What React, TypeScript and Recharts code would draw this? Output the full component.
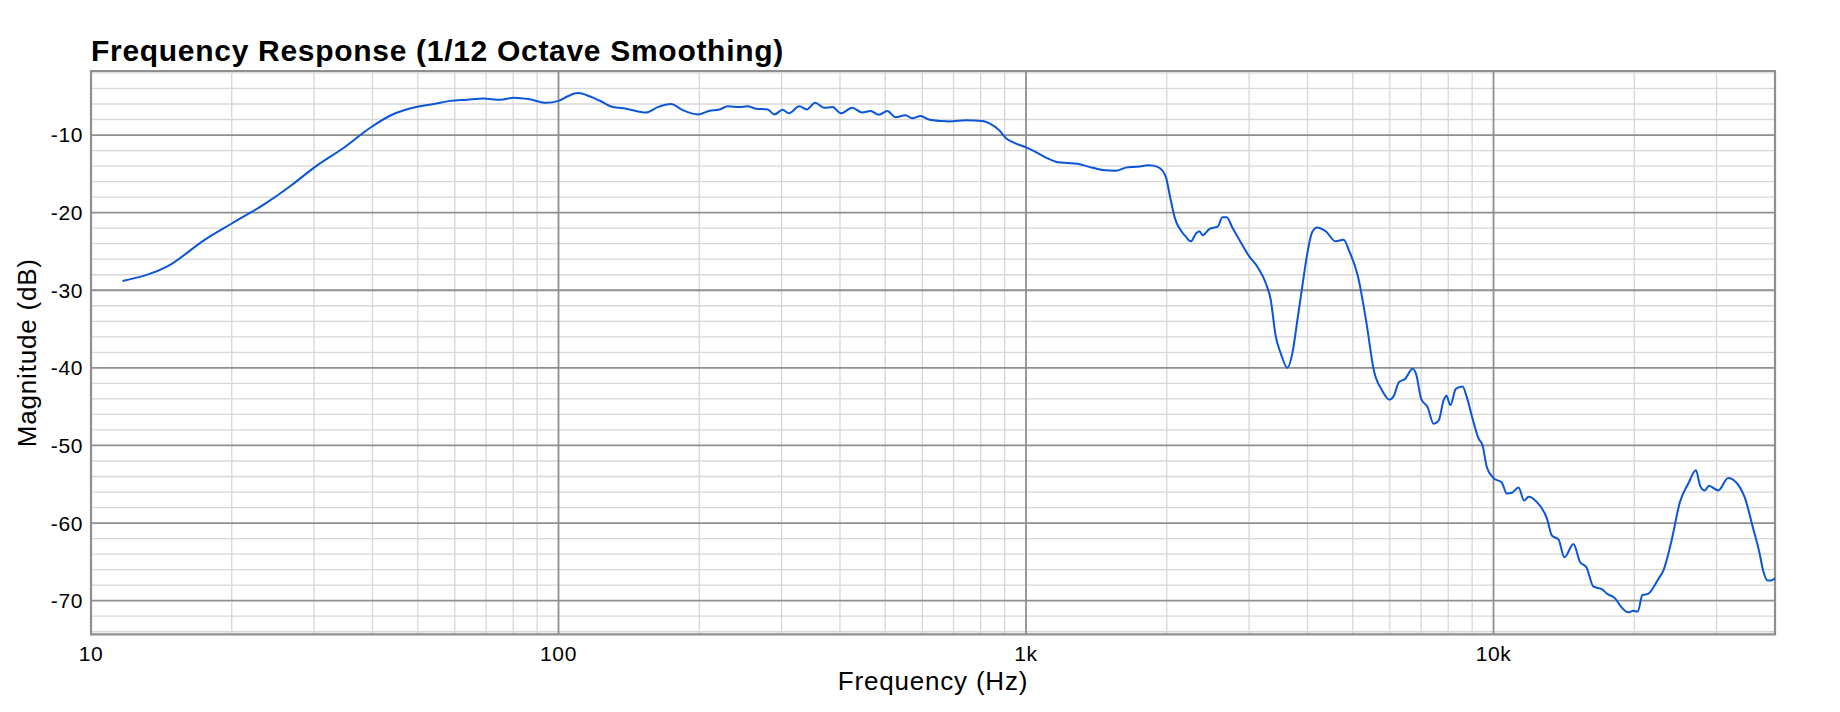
import { LineChart, Line, XAxis, YAxis, CartesianGrid, ReferenceArea, Label } from 'recharts';

const FREQ_HZ = [
  11.68, 14.6, 17.5, 20, 23.5, 26.8, 30, 34.8, 39.7, 43.8, 46.7, 49.9, 54.1, 58.7, 63.7, 69.2, 75.1, 80.2,
  86.7, 94.1, 100, 104.7, 110, 116.5, 122.3, 130.6, 139.5, 153.9, 163, 174, 184.4, 198.5, 210, 220.9, 230.3,
  243.5, 253.6, 264.4, 280, 289.5, 301.6, 310.9, 327.6, 339.5, 354, 370, 385.5, 401.7, 424.7, 446.1, 465,
  484.2, 505, 526, 552.5, 571, 595, 620, 660, 686, 744, 808, 835, 877, 906, 944, 1000, 1050, 1103, 1169,
  1227, 1289, 1365, 1458, 1557, 1636, 1718, 1834, 1911, 1959, 1991, 2040, 2084, 2144, 2197, 2252, 2309,
  2348, 2388, 2469, 2570, 2632, 2686, 2762, 2879, 3000, 3127, 3258, 3337, 3420, 3505, 3624, 3713, 3807,
  3899, 3995, 4094, 4195, 4375, 4596, 4778, 4917, 5128, 5348, 5545, 5775, 5985, 6121, 6266, 6475, 6712,
  6830, 7003, 7232, 7442, 7630, 7820, 7930, 8084, 8307, 8584, 8770, 8960, 9290, 9474, 9677, 10000, 10418,
  10677, 10944, 11307, 11628, 11887, 12378, 13006, 13330, 13768, 14180, 14820, 15310, 15800, 16360, 17040,
  17490, 18200, 18750, 19430, 19900, 20350, 20810, 21440, 22520, 23090, 24040, 25040, 26100, 27100, 27670,
  28300, 28890, 30250, 31760, 33650, 34460, 35850, 37010, 37800, 38550, 39190, 40000,
];

const MAG_DB = [
  -28.8, -26.9, -23.5, -21.4, -18.9, -16.5, -14.2, -11.6, -9.0, -7.45, -6.8, -6.35, -6.0, -5.6, -5.45, -5.3, -5.45, -5.2,
  -5.4, -5.85, -5.6, -5.0, -4.6, -5.0, -5.55, -6.4, -6.6, -7.1, -6.4, -6.0, -6.8, -7.35, -6.9, -6.7, -6.3,
  -6.4, -6.3, -6.6, -6.7, -7.35, -6.75, -7.2, -6.3, -6.7, -5.85, -6.5, -6.4, -7.2, -6.5, -7.1, -6.9,
  -7.4, -6.9, -7.7, -7.45, -7.85, -7.55, -8.0, -8.2, -8.25, -8.1, -8.2, -8.5, -9.4, -10.4, -11.0, -11.6, -12.2, -12.9, -13.5,
  -13.6, -13.7, -14.1, -14.5, -14.6, -14.2, -14.1, -13.9, -14.1, -14.6, -15.4, -18.4, -20.8, -22.3, -23.1, -23.7, -22.7,
  -22.4, -22.9, -22.1, -21.8, -20.6, -20.6, -21.9, -23.8, -25.6, -27.0, -29.1, -31.2, -35.9, -38.1, -40.0, -38.1, -33.8,
  -29.5, -25.3, -22.5, -21.9, -22.4, -23.7, -23.5, -25.0, -28.2, -34.2, -40.3, -42.9, -44.1, -43.6, -41.9, -41.4, -40.1,
  -40.8, -44.0, -45.1, -47.2, -46.8, -44.2, -43.6, -44.8, -42.7, -42.4, -43.8, -45.9, -49.1, -50.0, -52.8, -54.2, -54.8,
  -56.2, -56.1, -55.4, -57.1, -56.6, -57.3, -59.4, -61.6, -62.1, -64.4, -62.7, -65.0, -65.7, -68.2, -68.5,
  -69.1, -69.7, -70.8, -71.5, -71.3, -71.4, -69.3, -69.1, -67.2, -66.1, -62.2, -57.3, -54.9, -53.2, -55.2,
  -55.8, -55.2, -55.8, -54.2, -55.4, -56.7, -60.5, -63.7, -66.3, -67.4, -67.4, -67.1,
];

const X_TICKS = [10, 100, 1000, 10000];
const X_TICK_LABELS = ['10', '100', '1k', '10k'];
const Y_TICKS = [-70, -60, -50, -40, -30, -20, -10];

const MAJOR_HZ = [100, 1000, 10000];
const MINOR_HZ = [
  20, 30, 40, 50, 60, 70, 80, 90,
  200, 300, 400, 500, 600, 700, 800, 900,
  2000, 3000, 4000, 5000, 6000, 7000, 8000, 9000,
  20000, 30000,
];
const MINOR_DB = [
  -74, -72, -68, -66, -64, -62, -58, -56, -54, -52, -48, -46, -44, -42, -38, -36, -34, -32,
  -28, -26, -24, -22, -18, -16, -14, -12, -8, -6, -4, -2,
];

const X_DOMAIN: [number, number] = [10, 40000];
const Y_DOMAIN: [number, number] = [-74.33, -1.75];

const data = FREQ_HZ.map((f, i) => ({ f, db: MAG_DB[i] }));

const FONT = '"Liberation Sans", Arial, Helvetica, sans-serif';
const TICK = { fill: '#000', fontSize: 21, letterSpacing: 0.6, fontFamily: FONT };

export default function App() {
  return (
    <div style={{ position: 'absolute', left: 0, top: 0, width: 1840, height: 712, background: '#fff', fontFamily: FONT }}>
      <div
        style={{
          position: 'absolute',
          left: 91,
          top: 36.3,
          fontSize: 30,
          lineHeight: '30px',
          fontWeight: 'bold',
          letterSpacing: 0.7,
          color: '#000',
          whiteSpace: 'nowrap',
        }}
      >
        Frequency Response (1/12 Octave Smoothing)
      </div>
      <LineChart width={1840} height={712} data={data} margin={{ top: 71, right: 65, bottom: 0, left: 0 }}>
        <CartesianGrid horizontalValues={MINOR_DB} verticalValues={MINOR_HZ} stroke="#d7d7d7" strokeWidth={1.3} />
        <CartesianGrid horizontalValues={Y_TICKS} verticalValues={MAJOR_HZ} stroke="#8f8f8f" strokeWidth={1.8} />
        <XAxis
          dataKey="f"
          type="number"
          scale="log"
          domain={X_DOMAIN}
          allowDataOverflow
          ticks={X_TICKS}
          interval={0}
          tickFormatter={(v) => X_TICK_LABELS[X_TICKS.indexOf(v)] ?? ''}
          axisLine={false}
          tickLine={false}
          tickSize={0}
          tickMargin={11.5}
          height={77.7}
          tick={TICK}
        >
          <Label
            value="Frequency (Hz)"
            position="insideBottom"
            offset={22}
            style={{ fill: '#000', fontSize: 26, letterSpacing: 0.8, fontFamily: FONT }}
          />
        </XAxis>
        <YAxis
          type="number"
          domain={Y_DOMAIN}
          allowDataOverflow
          ticks={Y_TICKS}
          interval={0}
          axisLine={false}
          tickLine={false}
          tickSize={0}
          tickMargin={8}
          width={91}
          tick={TICK}
        >
          <Label
            content={(props: any) => {
              const vb = props.viewBox || { x: 0, y: 71, width: 91, height: 563 };
              const cx = vb.x + 36;
              const cy = vb.y + vb.height / 2;
              return (
                <text
                  x={cx}
                  y={cy}
                  transform={`rotate(-90 ${cx} ${cy})`}
                  textAnchor="middle"
                  fill="#000"
                  fontSize={26}
                  letterSpacing={0.8}
                  fontFamily={FONT}
                >
                  Magnitude (dB)
                </text>
              );
            }}
          />
        </YAxis>
        <ReferenceArea
          x1={X_DOMAIN[0]}
          x2={X_DOMAIN[1]}
          y1={Y_DOMAIN[0]}
          y2={Y_DOMAIN[1]}
          fill="none"
          stroke="#8f8f8f"
          strokeWidth={2.2}
          ifOverflow="visible"
        />
        <Line
          type="monotone"
          dataKey="db"
          stroke="#0b56d8"
          strokeWidth={2}
          dot={false}
          isAnimationActive={false}
        />
      </LineChart>
    </div>
  );
}
